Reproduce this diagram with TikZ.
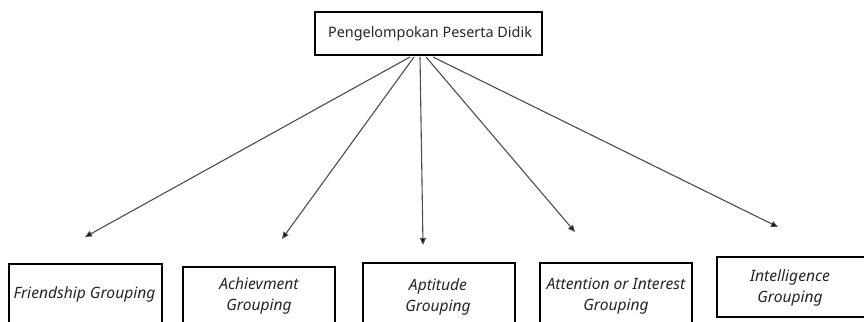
\documentclass[tikz,border=0pt]{standalone}
\usepackage{fontspec}
\setmainfont{Noto Sans}
\usetikzlibrary{arrows.meta}
\begin{document}
\begin{tikzpicture}[x=1pt,y=-1pt,
  box/.style={draw=black,line width=1.3pt,inner sep=0pt},
  lbl/.style={font=\fontsize{15.6}{21}\selectfont\itshape,align=center,text=black!85},
  conn/.style={draw=black!70,line width=1.1pt,-{Triangle[length=7pt,width=6pt,fill=black]}}]
\clip (0,0) rectangle (864,321);
\useasboundingbox (0,0) rectangle (864,321);
% top box
\draw[box] (315,12) rectangle (542,55);
\node[font=\fontsize{14.4}{18}\selectfont,text=black!85] (top) at (430,34) {Pengelompokan Peserta Didik};
\coordinate (s1) at (410,57);
\coordinate (s2) at (414,57);
\coordinate (s3) at (420,57);
\coordinate (s4) at (426,57);
\coordinate (s5) at (433,57);
% bottom boxes
\draw[box] (9,264) rectangle (162,330);
\draw[box] (183,267) rectangle (335,330);
\draw[box] (363,263) rectangle (515,330);
\draw[box] (540,263) rectangle (692,330);
\draw[box] (717,257) rectangle (866,317);
\node[lbl] (b1) at (84.5,294) {Friendship Grouping};
\node[lbl] (b2) at (259,296) {Achievment\\Grouping};
\node[lbl] (b3) at (438,296.5) {Aptitude\\Grouping};
\node[lbl] (b4) at (616,296.5) {Attention or Interest\\Grouping};
\node[lbl] (b5) at (790,287.5) {Intelligence\\Grouping};
\coordinate (t1) at (85,237);
\coordinate (t2) at (282,239);
\coordinate (t3) at (423,245);
\coordinate (t4) at (575,232);
\coordinate (t5) at (778,227);
\draw[conn] (s1) -- (t1);
\draw[conn] (s2) -- (t2);
\draw[conn] (s3) -- (t3);
\draw[conn] (s4) -- (t4);
\draw[conn] (s5) -- (t5);
\end{tikzpicture}
\end{document}
